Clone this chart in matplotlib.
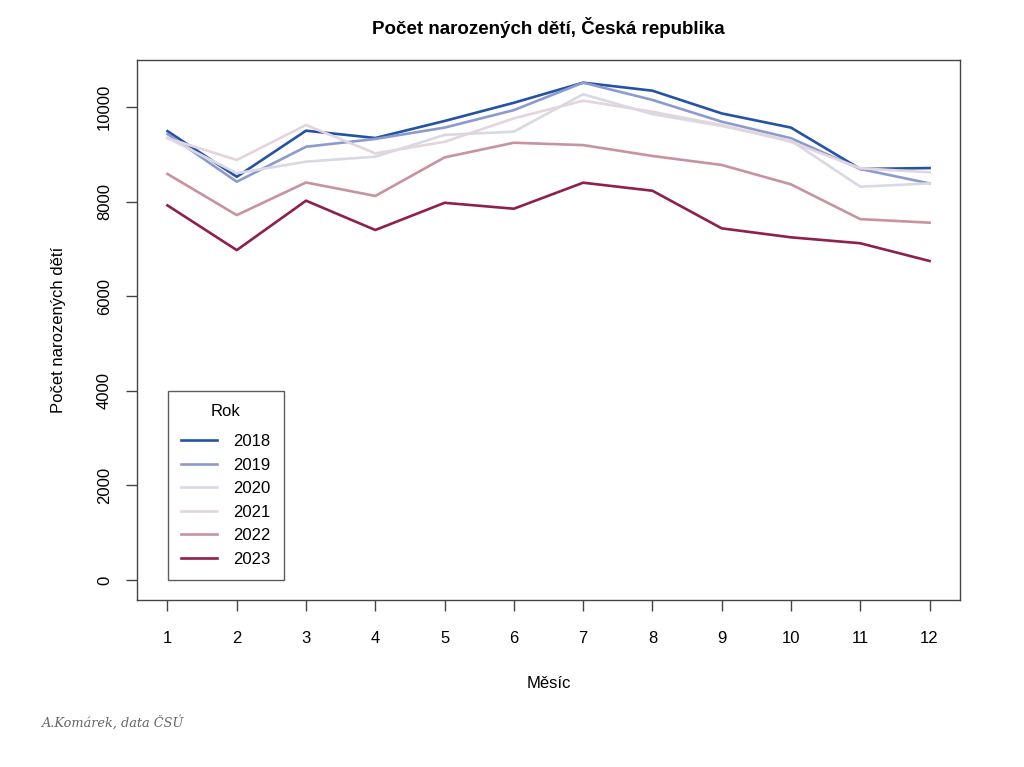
import matplotlib.pyplot as plt
import numpy as np

plt.rcParams['font.family'] = ['Liberation Sans', 'DejaVu Sans']

months = np.arange(1, 13)
years = ['2018', '2019', '2020', '2021', '2022', '2023']

births_2018 = [9490, 8525, 9500, 9345, 9705, 10090, 10515, 10345, 9865, 9565, 8690, 8710]
births_2019 = [9430, 8420, 9160, 9325, 9565, 9935, 10515, 10150, 9690, 9340, 8690, 8385]
births_2020 = [9350, 8600, 8845, 8950, 9410, 9480, 10270, 9850, 9600, 9290, 8315, 8385]
births_2021 = [9340, 8880, 9620, 9020, 9265, 9760, 10135, 9900, 9620, 9265, 8705, 8620]
births_2022 = [8585, 7715, 8405, 8120, 8935, 9245, 9195, 8965, 8775, 8365, 7630, 7555]
births_2023 = [7920, 6975, 8020, 7400, 7975, 7850, 8400, 8230, 7435, 7245, 7120, 6745]

series = [births_2018, births_2019, births_2020, births_2021, births_2022, births_2023]
colors = ['#2452a4', '#8c9bcf', '#d8d9e3', '#e4d4dd', '#c8939e', '#8e1f4f']

fig = plt.figure(figsize=(10.24, 7.67), dpi=100)
ax = fig.add_axes([0.1338, 0.2177, 0.8037, 0.704])

for yr, vals, c in zip(years, series, colors):
    ax.plot(months, vals, color=c, lw=1.9, label=yr)

ax.set_xlim(0.56, 12.44)
ax.set_ylim(-423, 10993)
ax.set_xticks(months)
ax.set_yticks([0, 2000, 4000, 6000, 8000, 10000])

for s in ax.spines.values():
    s.set_color('#444444')
    s.set_linewidth(1.0)

fs = 12
ax.tick_params(axis='both', length=8, width=1, color='#444444', labelsize=fs)
ax.tick_params(axis='x', pad=14)
ax.tick_params(axis='y', pad=10)
plt.setp(ax.get_yticklabels(), rotation=90, va='center')

ax.set_title('Počet narozených dětí, Česká republika', fontsize=13.5,
             fontweight='bold', pad=19)
ax.set_xlabel('Měsíc', fontsize=fs, labelpad=22)
ax.set_ylabel('Počet narozených dětí', fontsize=fs, labelpad=22)

leg = ax.legend(title='Rok', loc='lower left', bbox_to_anchor=(0.0377, 0.037),
                borderaxespad=0, fancybox=False, edgecolor='#333333',
                fontsize=fs, title_fontsize=fs, handlelength=2.15,
                handletextpad=0.95, labelspacing=0.51, borderpad=0.8)
leg.get_frame().set_linewidth(1.0)
# wider gap between the legend title and the entries
leg._legend_box.sep = 10.7

fig.text(0.041, 0.0587, 'A.Komárek, data ČSÚ', fontsize=9.3, style='italic',
         family='DejaVu Serif', color='#666666', va='center')

plt.savefig('out.png', dpi=100)
